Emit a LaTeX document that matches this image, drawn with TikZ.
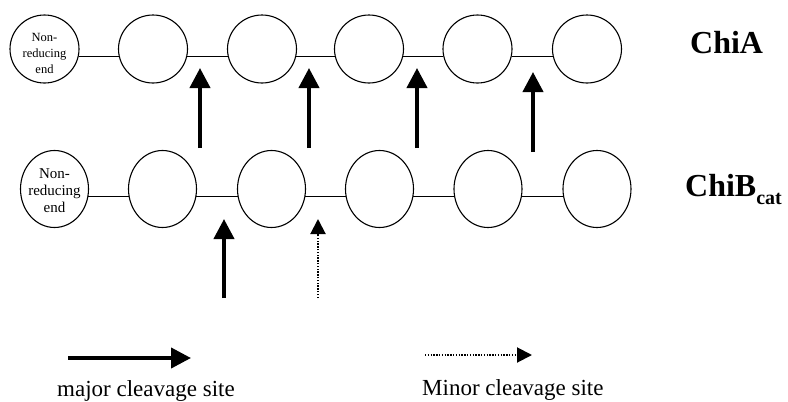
\documentclass[tikz,border=0pt]{standalone}
\usepackage{fontspec}
\setmainfont{Liberation Serif}
\usetikzlibrary{shapes.geometric,arrows.meta}
\tikzset{
  res1/.style={draw,line width=1.1pt,ellipse,inner sep=0pt,minimum width=69pt,minimum height=68pt},
  res2/.style={draw,line width=1.1pt,ellipse,inner sep=0pt,minimum width=68pt,minimum height=77pt},
  link1/.style={line width=1pt},
  link2/.style={line width=1.3pt},
  majorarr/.style={line width=4pt,-{Triangle[length=20pt,width=20pt]}},
  minorarr/.style={line width=2pt,dash pattern=on 1.4pt off 1.4pt,-{Triangle[length=15pt,width=15pt]}},
  endtxt1/.style={align=center,font=\fontsize{12.5}{16}\selectfont,inner sep=0pt},
  endtxt2/.style={align=center,font=\fontsize{15}{17}\selectfont,inner sep=0pt},
  protlab/.style={anchor=base west,inner sep=0pt,font=\fontsize{32}{32}\selectfont\bfseries},
  leglab/.style={anchor=base west,inner sep=0pt,font=\fontsize{23}{23}\selectfont}
}
\begin{document}
\begin{tikzpicture}[x=1pt,y=-1pt]
\useasboundingbox (0,0) rectangle (788,402);
% Row 1 (ChiA)
\node[res1] (a0) at (44.5,49) {};
\node[endtxt1] (a0t) at (44.5,53) {Non-\\reducing\\end};
\node[res1] (a1) at (153,49) {};
\node[res1] (a2) at (262,49) {};
\node[res1] (a3) at (369,49) {};
\node[res1] (a4) at (477.5,49) {};
\node[res1] (a5) at (587,49) {};
\foreach \i/\j in {0/1,1/2,2/3,3/4,4/5}
  \draw[link1] (a\i.-12) -- (a\j.192);
\node[protlab] (chia) at (690,53) {ChiA};
% Row 1 arrows
\coordinate (at1) at (200,68);   \coordinate (ab1) at (200,148);
\coordinate (at2) at (309,68);   \coordinate (ab2) at (309,148);
\coordinate (at3) at (417,68);   \coordinate (ab3) at (417,148);
\coordinate (at4) at (533,72);   \coordinate (ab4) at (533,152);
\foreach \k in {1,2,3,4}
  \draw[majorarr] (ab\k) -- (at\k);
% Row 2 (ChiB cat)
\node[res2] (b0) at (54.5,189) {};
\node[endtxt2] (b0t) at (54.5,191) {Non-\\reducing\\end};
\node[res2] (b1) at (162.5,189) {};
\node[res2] (b2) at (271.5,189) {};
\node[res2] (b3) at (379.5,189) {};
\node[res2] (b4) at (488,189) {};
\node[res2] (b5) at (597,189) {};
\foreach \i/\j in {0/1,1/2,2/3,3/4,4/5}
  \draw[link2] (b\i.-12) -- (b\j.192);
\node[protlab] (chib) at (685,196) {ChiB\raisebox{-8pt}{\fontsize{20}{20}\selectfont cat}};
% Row 2 arrows
\coordinate (bt1) at (224,219);  \coordinate (bb1) at (224,298);
\coordinate (bt2) at (318,219);  \coordinate (bb2) at (318,298);
\draw[majorarr] (bb1) -- (bt1);
\draw[minorarr] (bb2) -- (bt2);
% Legend
\coordinate (l1s) at (68,358);  \coordinate (l1e) at (191,358);
\coordinate (l2s) at (425,355); \coordinate (l2e) at (532,355);
\draw[majorarr] (l1s) -- (l1e);
\draw[minorarr] (l2s) -- (l2e);
\node[leglab] (majlab) at (57,396.5) {major cleavage site};
\node[leglab] (minlab) at (422,395) {Minor cleavage site};
\end{tikzpicture}
\end{document}
